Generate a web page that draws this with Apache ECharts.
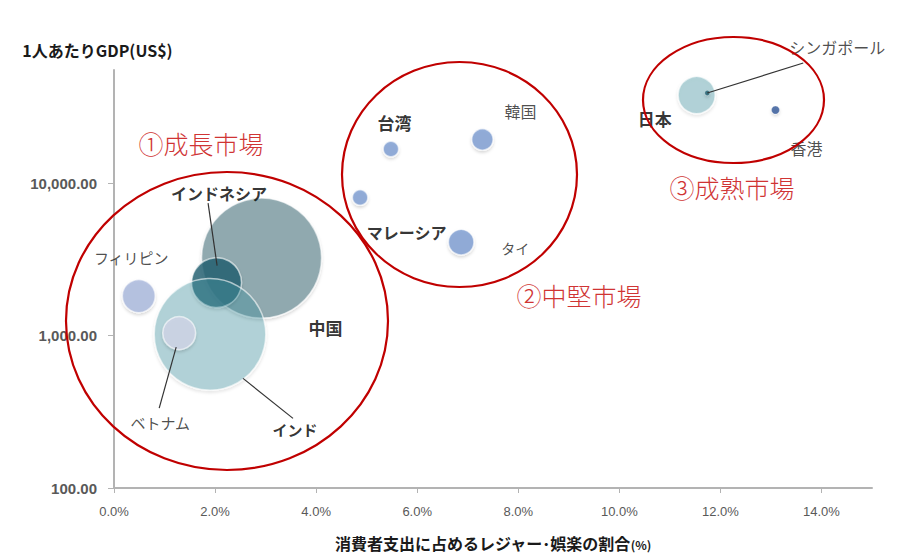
<!DOCTYPE html>
<html><head><meta charset="utf-8">
<script src="https://cdn.jsdelivr.net/npm/echarts@6/dist/echarts.min.js"></script>
<style>html,body{margin:0;padding:0;background:#fff}#c{width:903px;height:556px}</style>
</head><body><div id="c"></div>
<script>
// ---- data ----
const countries    = ['中国','インドネシア','インド','ベトナム','フィリピン','台湾','マレーシア','韓国','タイ','日本','シンガポール','香港'];
const leisureShare = [2.92, 2.03, 1.90, 1.29, 0.49, 5.48, 4.87, 7.29, 6.87, 11.53, 11.74, 13.09];   // %
const gdpPerCapita = [3230, 2230, 1020, 1040, 1820, 16800, 8070, 19400, 4110, 38000, 39200, 30300]; // US$
const population   = [1330, 230, 1150, 100, 100, 22, 22, 42, 60, 127, 2.5, 6];                         // bubble size
const xTicks = [0, 2, 4, 6, 8, 10, 12, 14];
const yTicks = [100, 1000, 10000];
const regionNames = ['①成長市場', '②中堅市場', '③成熟市場'];

// ---- styles ----
const FONT = '"Noto Sans CJK JP","Noto Sans",sans-serif';
const NUMFONT = '"Liberation Sans",Arial,sans-serif';
const teal = 'rgba(64,151,164,0.45)';
const blue = '#7b9bd1';
const style = {
  '中国':        {color:'#7b99a0', off:[64,69],    fs:17, fw:'bold'},
  'インドネシア': {color:'#1f5f6f', off:[2.5,-89.5], fs:16, fw:'bold'},
  'インド':      {color:teal,      off:[85,95],    fs:15, fw:'bold'},
  'ベトナム':    {color:'#d2d6e8', off:[-19,89],   fs:15, fw:'normal'},
  'フィリピン':  {color:'#a8b6dc', off:[-7.5,-39], fs:15, fw:'normal'},
  '台湾':        {color:blue,      off:[3.5,-27],  fs:17, fw:'bold'},
  'マレーシア':  {color:blue,      off:[46.5,34.5],fs:16, fw:'bold'},
  '韓国':        {color:blue,      off:[38,-28.5], fs:16, fw:'normal'},
  'タイ':        {color:blue,      off:[54,6],     fs:14, fw:'normal'},
  '日本':        {color:teal,      off:[-42,23],   fs:17, fw:'bold'},
  'シンガポール':{color:'#1f5f6f', off:[130,-46],  fs:16, fw:'normal'},
  '香港':        {color:'#2f5597', off:[31,38],    fs:16, fw:'normal'}
};
const leaders = {
  'インドネシア': [[0.5,-17],[-8.5,-79.5]],
  'ベトナム':     [[-3,14],[-20,75]],
  'インド':       [[33,44],[83,84]],
  'シンガポール': [[0,0],[96,-30]]
};
const ellipses = [ {cx:227, cy:321, rx:161, ry:149}, {cx:459.5, cy:174.5, rx:117.5, ry:112.5}, {cx:733.5, cy:100, rx:90.5, ry:63} ];
const regionLabelPos = [[201,143],[579,295],[732,187]];

const data = countries.map((c, i) => {
  const s = style[c];
  return {
    name: c,
    value: [leisureShare[i], gdpPerCapita[i], population[i]],
    itemStyle: {
      color: s.color,
      borderColor: 'rgba(255,255,255,0.75)', borderWidth: population[i] > 10 ? 1.5 : 0.5,
      shadowBlur: 3, shadowColor: 'rgba(0,0,0,0.18)', shadowOffsetY: 2
    },
    label: {
      show: true, position: 'inside', offset: s.off, formatter: c,
      fontSize: s.fs, fontWeight: s.fw, fontFamily: FONT,
      color: s.fw === 'bold' ? '#000' : '#1f1f1f', textBorderWidth: 0
    }
  };
});

const chart = echarts.init(document.getElementById('c'), null, {renderer: 'svg'});
chart.setOption({
  animation: false,
  backgroundColor: '#fff',
  grid: {left: 114, right: 31, top: 70, bottom: 68},
  xAxis: {
    type: 'value', min: 0, max: 15, interval: 2,
    name: '{a|消費者支出に占めるレジャー･娯楽の割合}{b|(%)}',
    nameLocation: 'middle', nameGap: 47,
    nameTextStyle: {rich: {
      a: {fontSize: 16, fontWeight: 'bold', color: '#1a1a1a', fontFamily: FONT},
      b: {fontSize: 12, fontWeight: 'bold', color: '#1a1a1a', fontFamily: FONT, padding: [3,0,0,0]}
    }},
    axisLine: {lineStyle: {color: '#b3b3b3', width: 2}},
    axisTick: {show: true, length: 5, customValues: xTicks, lineStyle: {color: '#b3b3b3'}},
    axisLabel: {customValues: xTicks, formatter: v => xTicks.includes(v) ? v.toFixed(1) + '%' : '',
      fontSize: 13, color: '#595959', margin: 17, fontFamily: NUMFONT},
    splitLine: {show: false}
  },
  yAxis: {
    type: 'log', logBase: 10, min: 100, max: 55500,
    name: '1人あたりGDP(US$)', nameLocation: 'end', nameGap: 12,
    nameTextStyle: {fontSize: 16, fontWeight: 'bold', color: '#1a1a1a', fontFamily: FONT, padding: [0, 33, 0, 0]},
    axisLine: {show: true, lineStyle: {color: '#b3b3b3', width: 2}},
    axisTick: {show: true, length: 6, customValues: yTicks, lineStyle: {color: '#b3b3b3'}},
    axisLabel: {customValues: yTicks,
      formatter: v => yTicks.includes(Math.round(v)) ? Math.round(v).toLocaleString('en-US', {minimumFractionDigits: 2, maximumFractionDigits: 2}) : '',
      fontSize: 15, fontWeight: 'bold', color: '#595959', margin: 17, fontFamily: NUMFONT},
    splitLine: {show: false}
  },
  series: [{
    type: 'scatter',
    symbol: 'circle',
    symbolSize: v => 120 * Math.sqrt(v[2] / 1330),
    data: data,
    emphasis: {disabled: true},
    z: 2
  }]
});

const graphics = [];
ellipses.forEach(e => graphics.push({
  type: 'ellipse', shape: {cx: e.cx, cy: e.cy, rx: e.rx, ry: e.ry},
  style: {fill: null, stroke: '#c00000', lineWidth: 2.2}, z: 5, silent: true
}));
regionNames.forEach((t, i) => graphics.push({
  type: 'text', x: regionLabelPos[i][0], y: regionLabelPos[i][1], z: 6, silent: true,
  style: {text: t, fill: '#d03434', fontSize: 25, fontFamily: FONT, fontWeight: 300, align: 'center', verticalAlign: 'middle'}
}));
countries.forEach((c, i) => {
  const l = leaders[c];
  if (!l) return;
  const p = chart.convertToPixel({seriesIndex: 0}, [leisureShare[i], gdpPerCapita[i]]);
  graphics.push({
    type: 'line', z: 20, silent: true,
    shape: {x1: p[0] + l[0][0], y1: p[1] + l[0][1], x2: p[0] + l[1][0], y2: p[1] + l[1][1]},
    style: {stroke: '#333', lineWidth: 1.2}
  });
});
chart.setOption({graphic: graphics});
</script>
</body></html>
